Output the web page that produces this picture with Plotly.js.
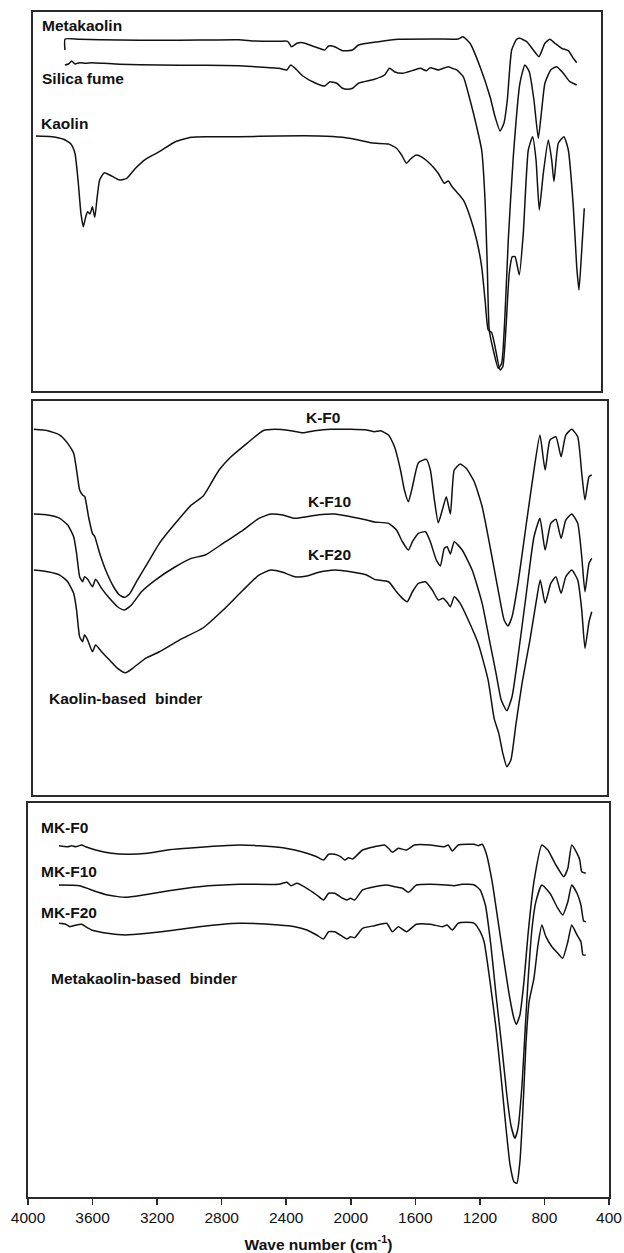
<!DOCTYPE html>
<html>
<head>
<meta charset="utf-8">
<script src="https://cdn.plot.ly/plotly-3.0.1.min.js"></script>
<style>html,body{margin:0;padding:0;background:#fff;}#chart{width:624px;height:1253px;}</style>
</head>
<body>
<div id="chart"></div>
<script>
// ---- Panel 1: raw materials (wavenumber cm-1, transmittance a.u.) ----
const metakaolinWn = [3771,3770,3680,3433,3186,2939,2693,2594,2445,2391,2367,2334,2297,2224,2162,2137,2100,2051,1989,1952,1828,1705,1458,1334,1305,1261,1199,1137,1106,1075,1051,1030,1003,972,952,910,869,834,797,766,735,693,652,621,600];
const metakaolinT = [341,352,351.7,351,350.7,351,351.3,350,349.7,349.7,344.3,347.7,348.3,344.3,341,345,344.3,340.3,341,346,349.3,351.7,352,352,354.3,347.7,324.3,294.3,274.3,260,267.7,291,341,351.7,352.7,349.3,341,334.3,347.7,351.7,347.7,342.7,340.3,332.7,328.3];

const silicaWn = [3771,3749,3729,3709,3680,3642,3606,3532,3433,3186,2939,2693,2594,2445,2396,2372,2334,2297,2224,2162,2129,2087,2051,2021,1989,1952,1853,1791,1760,1730,1680,1606,1569,1532,1507,1458,1396,1372,1344,1303,1261,1220,1189,1168,1154,1142,1117,1086,1065,1045,1024,993,952,921,894,865,838,817,797,761,724,683,642,600];
const silicaT = [326,327,330,327,328.3,327.7,328.3,327.7,326.7,326,325.7,325.3,324.3,322.7,321,326,321,315,308.3,305,309.3,307.7,302.7,301.7,302.7,307.7,311.7,316,322.7,319.3,317.7,321,322.7,320.3,323.3,321,324.3,322.7,321,314.3,291,264.3,241,191,124.3,61,41,22.7,27.7,74.3,151,234.3,307.7,326,319.3,291,252.7,281,307.7,321,324.3,317.7,309.3,306];

const kaolinWn = [3951,3852,3779,3734,3709,3690,3672,3657,3642,3631,3616,3601,3586,3571,3556,3527,3482,3433,3388,3334,3272,3186,3087,2989,2890,2693,2445,2199,2051,1952,1878,1841,1767,1717,1685,1655,1631,1594,1557,1507,1458,1421,1396,1372,1303,1261,1220,1189,1168,1148,1127,1106,1075,1058,1038,1018,999,982,956,931,900,873,852,832,807,776,755,741,714,679,652,621,600,586,570,553];
const kaolinT = [255,254.3,251.7,247,237.7,211,177.7,164.3,174.3,179.3,177,184.3,173.7,194.3,211,218.3,215,211,212.7,222.7,231.7,239.3,249.3,253.7,254.3,254.3,255,255,253.7,251,248.3,247.7,247,242.7,236,227.7,231.7,236,233.7,227,217.7,207.7,210,204.3,191,174.3,151,124.3,91,61,58.3,44.3,21,24.3,64.3,117.7,134.3,134.3,116,157.7,241,254.3,231,181,217.7,251,231,209.3,247.7,254.3,241,184.3,124.3,101,137.7,182.7];

// ---- Panel 2: kaolin-based binders ----
const kf0Wn = [3964,3877,3803,3754,3717,3699,3680,3662,3648,3625,3601,3586,3556,3519,3470,3433,3403,3371,3322,3260,3186,3087,2988,2914,2890,2816,2742,2643,2544,2470,2371,2297,2223,2124,2001,1902,1853,1816,1766,1729,1692,1668,1643,1618,1581,1532,1507,1482,1458,1433,1408,1383,1359,1322,1285,1235,1186,1137,1087,1050,1026,1001,964,915,865,828,796,766,729,697,668,631,594,569,549,524,507];
const kf0T = [365.7,364.3,360,351.7,341.7,325,305,300,298.3,278.3,261.7,258.3,241.7,225,208.3,200,197.7,201,215,231.7,251.7,271.7,290,299,305,325,338.3,351.7,364.3,365.7,364.3,362.3,364.3,365.7,365.7,365,363.3,364.3,360,348.3,325,305,293.3,308.3,332.3,335.7,325,295,272.3,285,298.3,281,325,331,326.7,313.3,288.3,248.3,205,175,169,178.3,211.7,268.3,325,360,325,355,358.3,338.3,360,365.7,358.3,321.7,295,318.3,320];

const kf10Wn = [3964,3877,3803,3754,3717,3699,3680,3662,3650,3630,3601,3581,3544,3495,3445,3403,3359,3297,3211,3087,2988,2902,2791,2667,2569,2495,2421,2347,2272,2198,2100,2001,1902,1853,1766,1717,1680,1643,1618,1581,1537,1507,1470,1445,1421,1403,1383,1359,1310,1248,1186,1137,1100,1068,1033,1001,964,915,865,828,796,761,729,697,668,631,594,569,549,524,507];
const kf10T = [281,280,276.7,270,258.3,241.7,218.3,213.3,218.3,215.7,208.3,215.7,206.7,196.7,188.3,185,190,203.3,215,228.3,236.7,240,251.7,265,276.7,281,280,276.7,278.3,280.3,281,278.3,275,273,271.7,265,253.3,245,253.3,261.7,263.3,253.3,235,229,246.7,248.3,241,253.3,245,225,191.7,151.7,121.7,95,84.3,98.3,138.3,198.3,258.3,276.7,245,271.7,275.7,256.7,275,281,271.7,238.3,203.3,231.7,236.7];

const kf20Wn = [3964,3877,3803,3754,3717,3699,3680,3662,3650,3630,3601,3581,3544,3495,3445,3396,3347,3272,3186,3062,2914,2791,2667,2569,2495,2421,2347,2272,2198,2100,2001,1902,1853,1766,1717,1680,1650,1618,1581,1537,1495,1458,1428,1403,1383,1359,1322,1272,1211,1149,1112,1083,1058,1033,1008,976,939,890,853,826,796,761,729,697,668,631,594,569,549,524,507];
const kf20T = [225,223.3,220,213.3,201.7,185,158.3,153.3,160,155,143.3,150,143.3,135,126.7,122.3,127.3,136.7,143.3,155,167.3,185,205,220,225,222.7,218.3,219,222.7,225,223.3,220,215.7,213.3,203.3,196.7,193.3,203.3,211.7,213.3,205,195,196.7,192.7,188.3,198.3,191.7,175,151.7,115,76.7,61.7,41.7,28.3,35,71.7,111.7,155,191.7,215,191.7,211.7,218.3,201.7,218.3,225,215,185,146.7,173.3,183.3];

// ---- Panel 3: metakaolin-based binders ----
const mkf0Wn = [3808,3754,3729,3704,3667,3643,3581,3482,3383,3260,3137,3013,2890,2692,2569,2421,2347,2272,2211,2169,2137,2100,2063,2038,2013,1989,1971,1927,1853,1791,1766,1742,1705,1655,1606,1507,1421,1396,1371,1334,1272,1235,1211,1186,1161,1124,1087,1050,1018,989,974,952,927,902,865,816,779,729,680,655,631,598,581,569,544];
const mkf0T = [351.3,350.3,351.3,350.3,352,350.3,347,343.7,342.7,343.7,347,348.7,350.3,352,351.3,349.3,347,343.7,340.3,337,342.7,342.7,340.3,337,339.3,338,340.3,347,350.3,352,348.7,344.7,348.7,347,352,352,350.3,352,346,352,352.7,352.7,351.3,352.7,343.7,315.3,275.3,235.3,202,178.7,172.7,182,215.3,262,315.3,352,347,332,320.3,328.7,352,343.7,337,325.3,323.7];

const mkf10Wn = [3808,3680,3606,3507,3396,3285,3137,2939,2692,2445,2396,2371,2334,2272,2211,2169,2137,2100,2050,2025,2001,1976,1927,1853,1778,1729,1680,1643,1593,1507,1408,1359,1310,1235,1198,1166,1132,1100,1063,1033,1008,983,964,939,919,902,877,853,816,766,717,687,655,631,598,574,557,544];
const mkf10T = [312,311.3,307,302,299.7,302,306,310.3,312.7,312.7,314.7,311.3,313.7,308.7,302,297,303.7,303.7,298.7,297,298.7,297,307,310.3,312,310.3,308.7,304.7,312,312.7,312,311.3,312.7,312,307,292,252,202,148.7,102,72,58.7,68.7,112,168.7,215.3,268.7,295.3,312,303.7,288.7,282,295.3,312,303.7,292,276,275.3];

const mkf20Wn = [3808,3766,3741,3717,3667,3643,3606,3507,3396,3260,3087,2939,2692,2445,2347,2272,2211,2169,2137,2100,2050,2025,2001,1976,1927,1853,1778,1742,1705,1655,1593,1507,1433,1403,1371,1334,1285,1235,1198,1174,1137,1100,1068,1038,1013,989,971,952,934,915,895,865,840,816,791,754,717,687,655,631,598,574,561,544];
const mkf20T = [273.7,272.7,270.3,271.3,272.7,270.3,267,263.7,262,263.7,267,270.3,273.7,272,270.3,267,262,258,265.3,265.3,260.3,258,260.3,259.3,268.7,271.3,273.7,265.3,270.3,265.3,272.7,272.7,270.3,272,267,273.7,274.7,273.7,265.3,255.3,215.3,168.7,118.7,68.7,32,15.3,13.7,35.3,85.3,152,195.3,218.7,252,272,260.3,250.3,243.7,238.7,255.3,272,262,255.3,242,242];

const xTicks = [4000,3600,3200,2800,2400,2000,1600,1200,800,400];

const FONT = 'Liberation Sans, Arial, sans-serif';
const lineStyle = {color:'#111', width:1.5, shape:'spline', smoothing:0.5};

function tr(x, y, xa, ya){
  return {x:x, y:y, xaxis:xa, yaxis:ya, type:'scatter', mode:'lines', line:lineStyle, hoverinfo:'skip', showlegend:false};
}

const data = [
  tr(metakaolinWn, metakaolinT, 'x', 'y'),
  tr(silicaWn, silicaT, 'x', 'y'),
  tr(kaolinWn, kaolinT, 'x', 'y'),
  tr(kf0Wn, kf0T, 'x2', 'y2'),
  tr(kf10Wn, kf10T, 'x2', 'y2'),
  tr(kf20Wn, kf20T, 'x2', 'y2'),
  tr(mkf0Wn, mkf0T, 'x3', 'y3'),
  tr(mkf10Wn, mkf10T, 'x3', 'y3'),
  tr(mkf20Wn, mkf20T, 'x3', 'y3')
];

const boxAxis = {showline:true, mirror:true, linecolor:'#2a2a2a', linewidth:1.8, showgrid:false, zeroline:false, showticklabels:false, ticks:'', fixedrange:true};

function ann(text, x, y, xanchor){
  return {text:'<b>'+text+'</b>', x:x, y:y, xref:'paper', yref:'paper', xanchor:xanchor, yanchor:'middle', showarrow:false, font:{family:FONT, size:15.5, color:'#111'}};
}

const layout = {
  width:624, height:1253,
  margin:{l:28, r:15, t:12, b:56},
  paper_bgcolor:'#fff', plot_bgcolor:'#fff',
  showlegend:false,
  font:{family:FONT, color:'#111'},
  xaxis: Object.assign({}, boxAxis, {domain:[0.0086, 0.9862], range:[3969, 449.6], anchor:'y'}),
  yaxis: Object.assign({}, boxAxis, {domain:[0.6802, 1.0], range:[0, 379], anchor:'x'}),
  xaxis2: Object.assign({}, boxAxis, {domain:[0.0086, 0.9966], range:[3969, 412.4], anchor:'y2'}),
  yaxis2: Object.assign({}, boxAxis, {domain:[0.3392, 0.6717], range:[0, 394], anchor:'x2'}),
  xaxis3: Object.assign({}, boxAxis, {
    domain:[0, 1], range:[4000, 400], anchor:'y3',
    showticklabels:true, ticks:'outside', ticklen:6, tickwidth:1.5, tickcolor:'#2a2a2a',
    tickvals:xTicks, ticktext:xTicks.map(String),
    tickfont:{family:FONT, size:15.5, color:'#111'},
    title:{text:'<b>Wave number (cm<sup>-1</sup>)</b>', font:{family:FONT, size:15.5, color:'#111'}, standoff:15}
  }),
  yaxis3: Object.assign({}, boxAxis, {domain:[0, 0.3325], range:[0, 394], anchor:'x3'}),
  annotations:[
    ann('Metakaolin', 0.0207, 0.989, 'left'),
    ann('Silica fume', 0.0207, 0.9443, 'left'),
    ann('Kaolin', 0.0189, 0.9055, 'left'),
    ann('K-F0', 0.5077, 0.6582, 'center'),
    ann('K-F10', 0.5181, 0.5865, 'center'),
    ann('K-F20', 0.5181, 0.5418, 'center'),
    ann('Kaolin-based\u00a0\u00a0binder', 0.0327, 0.4203, 'left'),
    ann('MK-F0', 0.0189, 0.3122, 'left'),
    ann('MK-F10', 0.0189, 0.2751, 'left'),
    ann('MK-F20', 0.0189, 0.2405, 'left'),
    ann('Metakaolin-based\u00a0\u00a0binder', 0.0361, 0.184, 'left')
  ]
};

Plotly.newPlot('chart', data, layout, {displayModeBar:false, staticPlot:true});
</script>
</body>
</html>
